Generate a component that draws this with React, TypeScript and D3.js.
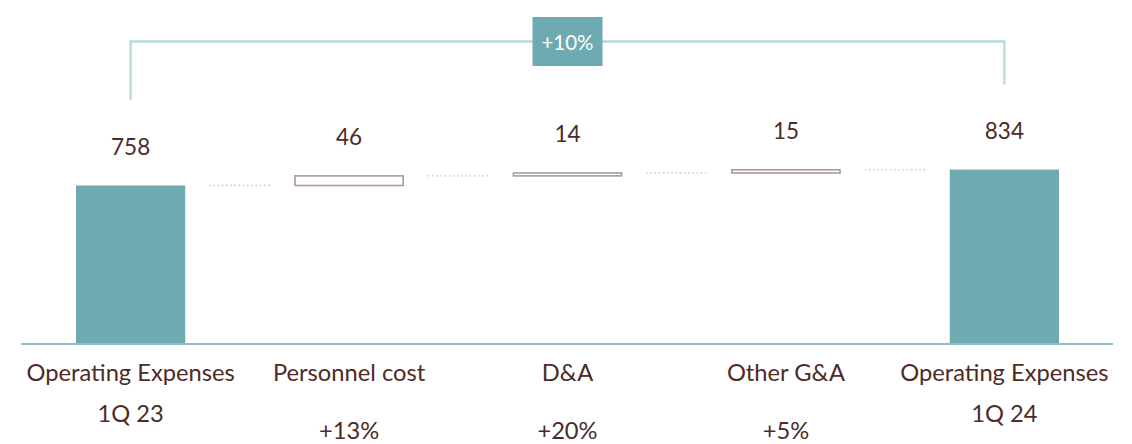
import React from "react";
import * as d3 from "d3";

const categories = ["Operating Expenses", "Personnel cost", "D&A", "Other G&A", "Operating Expenses"];
const subLabels = ["1Q 23", "", "", "", "1Q 24"];
const pctLabels = ["", "+13%", "+20%", "+5%", ""];
const values = [758, 46, 14, 15, 834];
const kinds = ["total", "delta", "delta", "delta", "total"];
const bracketLabel = "+10%";

const W = 1132;
const H = 444;
const FONT = "Lato, 'Open Sans', sans-serif";
const TEXT = "#4e2b25";
const TEAL = "#6eaab1";

export default function App() {
  const keys = categories.map((_, i) => String(i));
  const x = d3.scaleBand<string>().domain(keys).range([21.4, 1113.6]).paddingInner(0.5).paddingOuter(0.25);
  const y = d3.scaleLinear().domain([0, 1000]).range([344, 134.9]);
  const bw = x.bandwidth();

  let cum = 0;
  const bars = values.map((v, i) => {
    let lo: number, hi: number;
    if (kinds[i] === "total") {
      lo = 0;
      hi = v;
      cum = v;
    } else {
      lo = cum;
      hi = cum + v;
      cum = hi;
    }
    return { i, v, lo, hi, kind: kinds[i], end: cum };
  });

  const firstTop = y(bars[0].hi);
  const lastTop = y(bars[bars.length - 1].hi);
  const bracketY = 41.5;
  const xFirst = (x("0") as number) + bw / 2;
  const xLast = (x(String(bars.length - 1)) as number) + bw / 2;
  const xMid = (xFirst + xLast) / 2;

  return (
    <svg width={W} height={H} style={{ position: "absolute", left: 0, top: 0 }} fontFamily={FONT}>
      {/* bracket */}
      <path
        d={`M${xFirst},${firstTop - 85.5}V${bracketY}H${xLast}V${lastTop - 85}`}
        fill="none"
        stroke="#b6dadd"
        strokeWidth={2.3}
      />
      <rect x={xMid - 35} y={17} width={70} height={49} fill={TEAL} />
      <text x={xMid} y={49.5} textAnchor="middle" fill="#ffffff" fontSize={20.5}>
        {bracketLabel}
      </text>

      {/* connectors */}
      {bars.slice(0, -1).map((b, i) => {
        const x1 = (x(String(i)) as number) + bw + 24;
        const x2 = (x(String(i + 1)) as number) - 24;
        const yy = y(b.end);
        return (
          <line key={"c" + i} x1={x1} x2={x2} y1={yy} y2={yy} stroke="#c9c6c6" strokeWidth={1.3} strokeDasharray="1.6 2.6" />
        );
      })}

      {/* bars */}
      {bars.map((b) => {
        const bx = x(String(b.i)) as number;
        if (b.kind === "total") {
          return <rect key={"b" + b.i} x={bx} y={y(b.hi)} width={bw} height={y(b.lo) - y(b.hi)} fill={TEAL} />;
        }
        return (
          <rect
            key={"b" + b.i}
            x={bx + 0.5}
            y={y(b.hi)}
            width={bw - 1}
            height={y(b.lo) - y(b.hi)}
            fill="#ffffff"
            stroke="#ad9a96"
            strokeWidth={1.6}
          />
        );
      })}

      {/* baseline */}
      <line x1={21} x2={1113} y1={y(0)} y2={y(0)} stroke="#8ec0c5" strokeWidth={2} />

      {/* value labels */}
      {bars.map((b) => (
        <text key={"v" + b.i} x={(x(String(b.i)) as number) + bw / 2} y={y(b.hi) - 31} textAnchor="middle" fill={TEXT} fontSize={22.5}>
          {b.v}
        </text>
      ))}

      {/* category labels */}
      {categories.map((c, i) => {
        const cx = (x(String(i)) as number) + bw / 2;
        return (
          <g key={"l" + i} fill={TEXT} fontSize={23.7} textAnchor="middle">
            <text x={cx} y={381}>{c}</text>
            {subLabels[i] && <text x={cx} y={421.5}>{subLabels[i]}</text>}
            {pctLabels[i] && <text x={cx} y={438.5}>{pctLabels[i]}</text>}
          </g>
        );
      })}
    </svg>
  );
}
